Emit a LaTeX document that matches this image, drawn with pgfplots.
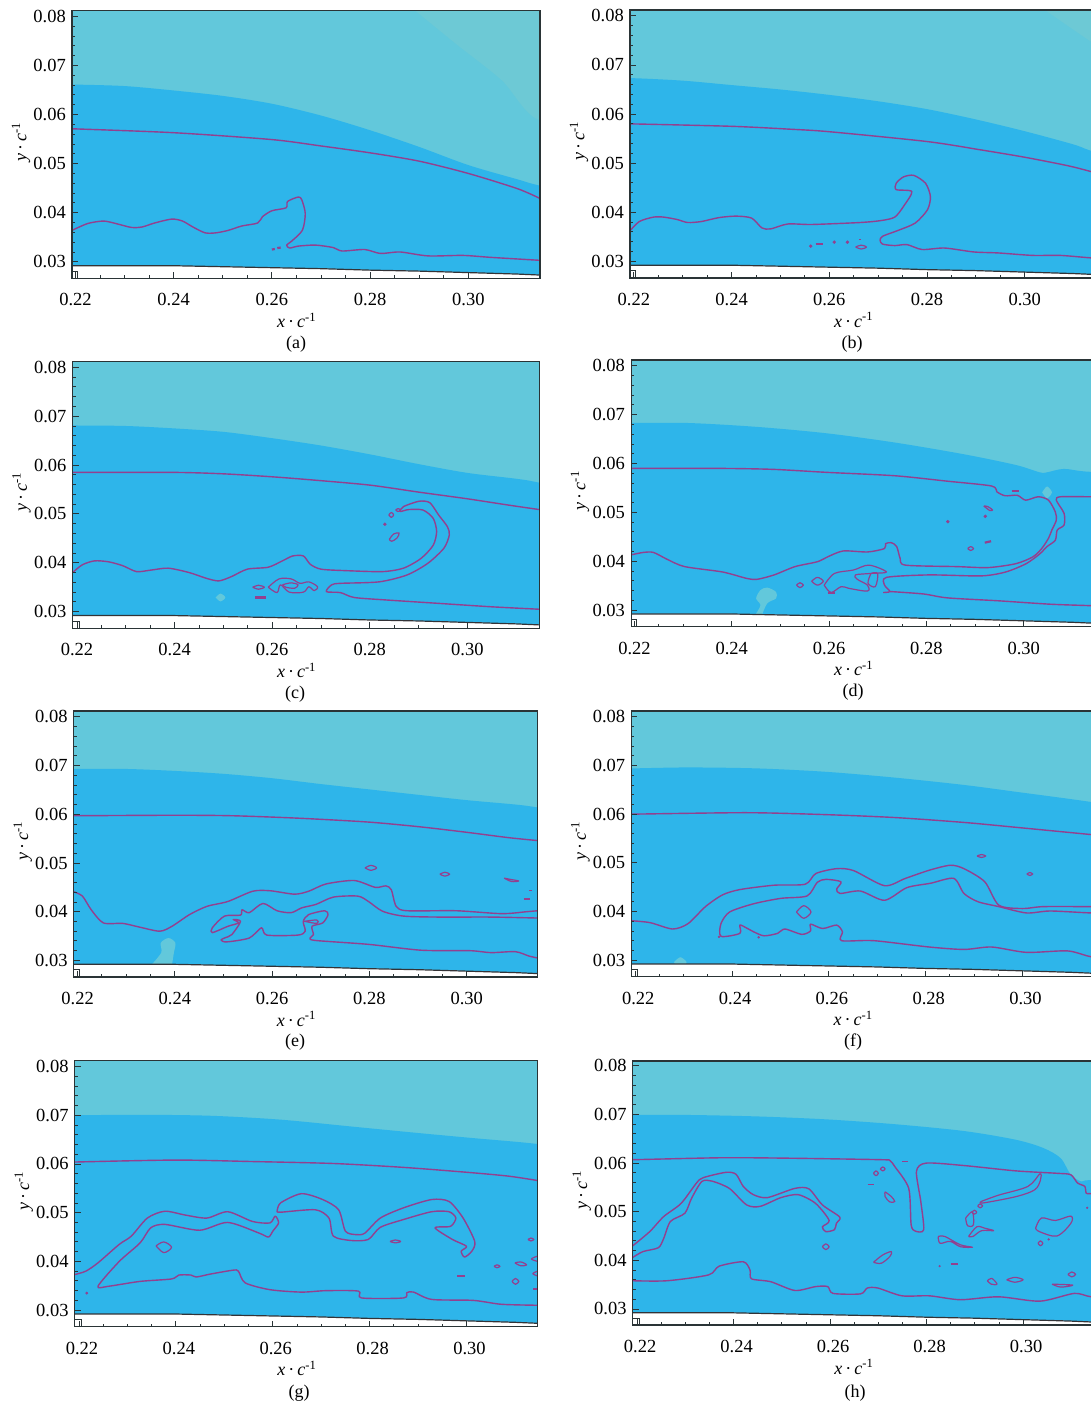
\documentclass[border=0pt]{standalone}
\usepackage{pgfplots}
\usepackage{pgfplotstable}
\usepackage{fontspec}
\setmainfont{Liberation Serif}
\pgfplotsset{compat=1.18}
\definecolor{cteal}{HTML}{62C8DB}
\definecolor{clite}{HTML}{6DC9D5}
\definecolor{cblue}{HTML}{2EB5EA}
\definecolor{cmag}{HTML}{93408F}
\definecolor{cax}{HTML}{2A3436}
\pgfplotstableread{
x y
0.2100 0.0292
0.2400 0.0292
0.2500 0.0290
0.2600 0.0288
0.2700 0.0286
0.2800 0.0283
0.2900 0.0281
0.3000 0.0278
0.3100 0.0275
0.3146 0.0273
0.3300 0.0268
}\wall
\pgfplotstableread{
x y
0.2100 0.0292
0.2400 0.0292
0.2500 0.0290
0.2600 0.0288
0.2700 0.0286
0.2800 0.0283
0.2900 0.0281
0.3000 0.0278
0.3100 0.0275
0.3146 0.0273
0.3300 0.0268
0.3300 0.0200
0.2100 0.0200
}\wallfill
\pgfplotsset{
  pan/.style={scale only axis, anchor=south west, axis on top,
    axis line style={draw=cax,line width=1.1pt},
    every tick/.style={draw=cax,line width=0.9pt},
    xtick={0.22,0.24,0.26,0.28,0.30},
    ytick={0.03,0.04,0.05,0.06,0.07,0.08},
    minor x tick num=3, minor y tick num=4,
    tick align=inside, xtick pos=lower, ytick pos=lower,
    major tick length=6pt, minor tick length=3pt,
    ymin=0.0266, ymax=0.0812,
    tick label style={font=\fontsize{18.5}{20}\selectfont},
    xticklabel style={yshift=-9pt},
    /pgf/number format/.cd, fixed, fixed zerofill, precision=2, assume math mode=true, /tikz/.cd,
    scaled ticks=false,
    xlabel={\textit{x}\,·\,\textit{c}\textsuperscript{-1}},
    ylabel={\textit{y}\,·\,\textit{c}\textsuperscript{-1}},
    label style={font=\fontsize{18}{20}\selectfont},
    xlabel style={at={(axis description cs:0.48,0)},anchor=center,yshift=-42pt},
    ylabel style={at={(axis description cs:0,0.51)},anchor=center,yshift=51pt},
  },
  nudge/.style={xticklabel style={xshift=3pt}},
  bg/.style={fill=cteal,draw=none},
  lz/.style={fill=clite,draw=none,smooth,tension=0.5},
  bl/.style={fill=cblue,draw=none,smooth,tension=0.5},
  lb/.style={fill=cteal,draw=none,smooth},
  ct/.style={draw=cmag,line width=1.4pt,line join=round,smooth,tension=0.45},
  lp/.style={draw=cmag,line width=1.2pt,line join=round,smooth,tension=0.55},
  ds/.style={draw=cmag,line width=2.2pt},
  dt/.style={only marks,mark=*,mark size=1.5pt,mark options={fill=cmag,draw=cmag},draw=cmag},
}
\newcommand\Base{\addplot[bg] coordinates {(0.21,0.02)(0.33,0.02)(0.33,0.09)(0.21,0.09)};}
\newcommand\Wall{\addplot[fill=white,draw=none] table {\wallfill};
\addplot[draw=black!90!cyan,line width=1.2pt] table {\wall};}
\newcommand\Corner{\addplot[draw=cax,line width=0.8pt] coordinates {(0.2150,0.0281)(0.2204,0.0281)(0.2204,0.0250)};}
\begin{document}
\fontsize{18}{20}\selectfont
\begin{tikzpicture}
\useasboundingbox (0pt,0pt) rectangle (1091pt,1405pt);

% ---------- (a)
\begin{axis}[pan,at={(72pt,1126.5pt)},width=468pt,height=268pt,xmin=0.2193,xmax=0.3146]
\Base
\addplot[lz] coordinates {(0.2882,0.0820)(0.2975,0.0744)(0.3068,0.0670)(0.3146,0.0588)(0.3300,0.0588)(0.3300,0.0820)};
\addplot[bl] coordinates {(0.2150,0.0661)(0.2200,0.0661)(0.2300,0.0658)(0.2400,0.0649)(0.2500,0.0638)(0.2600,0.0622)(0.2700,0.0598)(0.2800,0.0568)(0.2900,0.0534)(0.3000,0.0497)(0.3100,0.0468)(0.3146,0.0455)(0.3300,0.0420)(0.3300,0.0200)(0.2150,0.0200)};
\Wall
\addplot[ct] coordinates {(0.2150,0.0572)(0.2193,0.0571)(0.2400,0.0563)(0.2600,0.0549)(0.2700,0.0536)(0.2800,0.0522)(0.2900,0.0505)(0.3000,0.0480)(0.3100,0.0449)(0.3146,0.0429)};
\addplot[ct] coordinates {(0.2193,0.0364)(0.2225,0.0378)(0.2257,0.0383)(0.2282,0.0378)(0.2314,0.0370)(0.2336,0.0371)(0.2361,0.0379)(0.2396,0.0387)(0.2418,0.0383)(0.2439,0.0371)(0.2464,0.0359)(0.2486,0.0359)(0.2511,0.0364)(0.2539,0.0373)(0.2571,0.0379)(0.2581,0.0392)(0.2600,0.0404)(0.2629,0.0410)(0.2632,0.0423)(0.2654,0.0432)(0.2661,0.0426)(0.2668,0.0398)(0.2662,0.0364)(0.2639,0.0341)(0.2630,0.0334)(0.2636,0.0328)(0.2654,0.0332)(0.2689,0.0334)(0.2725,0.0329)(0.2743,0.0322)(0.2789,0.0325)(0.2821,0.0317)(0.2861,0.0320)(0.2918,0.0312)(0.2989,0.0313)(0.3046,0.0309)(0.3146,0.0303)};
\addplot[ds] coordinates {(0.2600,0.0325)(0.2606,0.0326)};
\addplot[ds] coordinates {(0.2611,0.0328)(0.2618,0.0329)};
\Corner
\end{axis}
\node at (296pt,1061pt) {(a)};

% ---------- (b)
\begin{axis}[pan,at={(630pt,1127pt)},width=466pt,height=268pt,xmin=0.2192,xmax=0.3146]
\Base
\addplot[lz] coordinates {(0.3030,0.0820)(0.3135,0.0748)(0.3300,0.0640)(0.3300,0.0820)};
\addplot[bl] coordinates {(0.2150,0.0673)(0.2200,0.0673)(0.2300,0.0668)(0.2400,0.0659)(0.2500,0.0650)(0.2600,0.0639)(0.2700,0.0626)(0.2800,0.0610)(0.2900,0.0589)(0.3000,0.0565)(0.3100,0.0538)(0.3146,0.0522)(0.3300,0.0480)(0.3300,0.0200)(0.2150,0.0200)};
\Wall
\addplot[ct] coordinates {(0.2150,0.0580)(0.2192,0.0580)(0.2400,0.0575)(0.2522,0.0569)(0.2600,0.0564)(0.2800,0.0544)(0.2910,0.0527)(0.3000,0.0512)(0.3087,0.0495)(0.3135,0.0483)(0.3200,0.0465)};
\addplot[ct] coordinates {(0.2191,0.0361)(0.2211,0.0381)(0.2240,0.0390)(0.2261,0.0390)(0.2289,0.0385)(0.2310,0.0379)(0.2338,0.0381)(0.2374,0.0389)(0.2409,0.0392)(0.2441,0.0388)(0.2462,0.0368)(0.2480,0.0366)(0.2515,0.0376)(0.2564,0.0375)(0.2663,0.0379)(0.2706,0.0383)(0.2734,0.0390)(0.2752,0.0412)(0.2769,0.0442)(0.2737,0.0446)(0.2737,0.0459)(0.2752,0.0472)(0.2773,0.0475)(0.2797,0.0459)(0.2807,0.0432)(0.2801,0.0405)(0.2776,0.0378)(0.2741,0.0363)(0.2709,0.0351)(0.2704,0.0343)(0.2709,0.0335)(0.2734,0.0332)(0.2759,0.0334)(0.2790,0.0324)(0.2836,0.0327)(0.2896,0.0319)(0.2946,0.0317)(0.3016,0.0312)(0.3073,0.0312)(0.3135,0.0307)(0.3200,0.0303)};
\addplot[dt] coordinates {(0.2562,0.0331)(0.2610,0.0339)(0.2637,0.0339)};
\addplot[ds] coordinates {(0.2572,0.0335)(0.2587,0.0335)};
\addplot[ds,line width=1pt] coordinates {(0.2661,0.0344)(0.2664,0.0344)};
\addplot[lp] coordinates {(0.2654,0.0329)(0.2665,0.0333)(0.2676,0.0329)(0.2665,0.0325)(0.2654,0.0329)};
\Corner
\end{axis}
\node at (852pt,1061pt) {(b)};

% ---------- (c)
\begin{axis}[pan,at={(72.6pt,776.7pt)},width=466.5pt,height=266.8pt,xmin=0.2191,xmax=0.3147]
\Base
\addplot[bl] coordinates {(0.2150,0.0681)(0.2200,0.0681)(0.2300,0.0680)(0.2400,0.0675)(0.2500,0.0668)(0.2600,0.0655)(0.2700,0.0640)(0.2800,0.0622)(0.2900,0.0602)(0.3000,0.0584)(0.3100,0.0572)(0.3147,0.0564)(0.3300,0.0530)(0.3300,0.0200)(0.2150,0.0200)};
\addplot[lb] coordinates {(0.2484,0.0329)(0.2494,0.0337)(0.2504,0.0329)(0.2494,0.0321)(0.2484,0.0329)};
\Wall
\addplot[ct] coordinates {(0.2150,0.0585)(0.2193,0.0585)(0.2401,0.0585)(0.2502,0.0582)(0.2600,0.0576)(0.2689,0.0569)(0.2800,0.0559)(0.2905,0.0544)(0.3000,0.0531)(0.3085,0.0518)(0.3147,0.0509)};
\addplot[ct] coordinates {(0.2191,0.0380)(0.2211,0.0396)(0.2236,0.0404)(0.2265,0.0402)(0.2294,0.0394)(0.2322,0.0382)(0.2351,0.0385)(0.2387,0.0389)(0.2430,0.0380)(0.2466,0.0368)(0.2491,0.0363)(0.2517,0.0372)(0.2549,0.0387)(0.2592,0.0391)(0.2621,0.0404)(0.2642,0.0414)(0.2664,0.0414)(0.2678,0.0397)(0.2700,0.0387)(0.2750,0.0384)(0.2826,0.0382)(0.2869,0.0389)(0.2905,0.0409)(0.2930,0.0436)(0.2937,0.0464)(0.2930,0.0491)(0.2909,0.0508)(0.2880,0.0509)(0.2862,0.0505)(0.2869,0.0515)(0.2901,0.0526)(0.2923,0.0523)(0.2941,0.0498)(0.2959,0.0474)(0.2963,0.0457)(0.2952,0.0430)(0.2919,0.0399)(0.2876,0.0375)(0.2819,0.0361)(0.2740,0.0358)(0.2722,0.0355)(0.2711,0.0341)(0.2740,0.0339)(0.2768,0.0329)(0.2833,0.0324)(0.2941,0.0317)(0.3049,0.0310)(0.3147,0.0305)};
\addplot[lp] coordinates {(0.2560,0.0350)(0.2572,0.0354)(0.2584,0.0350)(0.2572,0.0346)(0.2560,0.0350)};
\addplot[ds] coordinates {(0.2565,0.0329)(0.2587,0.0329)};
\addplot[lp] coordinates {(0.2592,0.0350)(0.2614,0.0367)(0.2639,0.0367)(0.2657,0.0358)(0.2675,0.0361)(0.2693,0.0351)(0.2686,0.0343)(0.2675,0.0351)(0.2664,0.0340)(0.2635,0.0340)(0.2617,0.0355)(0.2610,0.0339)(0.2592,0.0350)};
\addplot[lp] coordinates {(0.2621,0.0355)(0.2639,0.0359)(0.2653,0.0355)(0.2646,0.0348)(0.2628,0.0350)(0.2621,0.0355)};
\addplot[lp] coordinates {(0.2839,0.0498)(0.2844,0.0503)(0.2849,0.0498)(0.2844,0.0493)(0.2839,0.0498)};
\addplot[lp] coordinates {(0.2853,0.0508)(0.2858,0.0511)(0.2863,0.0508)(0.2858,0.0505)(0.2853,0.0508)};
\addplot[dt] coordinates {(0.2831,0.0479)};
\addplot[lp] coordinates {(0.2840,0.0448)(0.2849,0.0459)(0.2860,0.0461)(0.2856,0.0451)(0.2845,0.0444)(0.2840,0.0448)};
\Corner
\end{axis}
\node at (295pt,711pt) {(c)};

% ---------- (d)
\begin{axis}[pan,at={(631.1pt,778.3pt)},width=463.6pt,height=266.7pt,xmin=0.2193,xmax=0.3146]
\Base
\addplot[bl] coordinates {(0.2150,0.0683)(0.2193,0.0683)(0.2310,0.0683)(0.2452,0.0675)(0.2594,0.0662)(0.2735,0.0643)(0.2877,0.0619)(0.2984,0.0597)(0.3033,0.0582)(0.3048,0.0582)(0.3083,0.0589)(0.3138,0.0583)(0.3300,0.0580)(0.3300,0.0200)(0.2150,0.0200)};
\addplot[lb] coordinates {(0.2448,0.0290)(0.2459,0.0310)(0.2450,0.0324)(0.2459,0.0341)(0.2473,0.0346)(0.2491,0.0337)(0.2491,0.0324)(0.2473,0.0314)(0.2462,0.0290)};
\addplot[lb] coordinates {(0.3038,0.0541)(0.3048,0.0553)(0.3058,0.0541)(0.3048,0.0529)(0.3038,0.0541)};
\Wall
\addplot[ct] coordinates {(0.2150,0.0590)(0.2193,0.0590)(0.2381,0.0590)(0.2487,0.0588)(0.2594,0.0582)(0.2735,0.0575)(0.2842,0.0564)(0.2934,0.0554)(0.2945,0.0542)(0.2962,0.0534)(0.2987,0.0535)(0.3004,0.0525)(0.3030,0.0532)(0.3051,0.0525)(0.3065,0.0501)(0.3067,0.0484)(0.3058,0.0464)(0.3051,0.0447)(0.3037,0.0426)(0.3019,0.0409)(0.2984,0.0395)(0.2927,0.0387)(0.2863,0.0389)(0.2757,0.0392)(0.2746,0.0406)(0.2739,0.0430)(0.2728,0.0438)(0.2716,0.0436)(0.2714,0.0426)(0.2679,0.0419)(0.2629,0.0421)(0.2597,0.0409)(0.2576,0.0399)(0.2530,0.0389)(0.2487,0.0372)(0.2452,0.0363)(0.2430,0.0365)(0.2381,0.0378)(0.2303,0.0389)(0.2267,0.0404)(0.2239,0.0418)(0.2218,0.0418)(0.2193,0.0413)};
\addplot[ct] coordinates {(0.3200,0.0532)(0.3138,0.0532)(0.3076,0.0532)(0.3067,0.0525)(0.3083,0.0498)(0.3083,0.0474)(0.3069,0.0464)(0.3065,0.0443)(0.3048,0.0430)(0.3033,0.0415)(0.3005,0.0395)(0.2963,0.0378)(0.2913,0.0370)(0.2806,0.0372)(0.2718,0.0367)(0.2714,0.0351)(0.2725,0.0338)(0.2711,0.0336)};
\addplot[ct] coordinates {(0.2725,0.0338)(0.2794,0.0333)(0.2843,0.0325)(0.2948,0.0319)(0.3055,0.0312)(0.3138,0.0309)(0.3200,0.0306)};
\addplot[lp] coordinates {(0.2590,0.0351)(0.2611,0.0375)(0.2650,0.0382)(0.2682,0.0392)(0.2718,0.0378)(0.2686,0.0375)(0.2654,0.0372)(0.2658,0.0363)(0.2679,0.0351)(0.2679,0.0339)(0.2643,0.0344)(0.2625,0.0348)(0.2604,0.0336)(0.2590,0.0351)};
\addplot[lp] coordinates {(0.2686,0.0375)(0.2700,0.0375)(0.2695,0.0348)(0.2680,0.0355)(0.2686,0.0375)};
\addplot[lp] coordinates {(0.2533,0.0351)(0.2540,0.0356)(0.2547,0.0351)(0.2540,0.0346)(0.2533,0.0351)};
\addplot[lp] coordinates {(0.2564,0.0359)(0.2576,0.0367)(0.2588,0.0359)(0.2576,0.0351)(0.2564,0.0359)};
\addplot[ds] coordinates {(0.2597,0.0335)(0.2612,0.0335)};
\addplot[dt] coordinates {(0.2844,0.0481)(0.2921,0.0492)};
\addplot[lp] coordinates {(0.2918,0.0513)(0.2926,0.0512)(0.2936,0.0505)(0.2930,0.0504)(0.2918,0.0513)};
\addplot[lp] coordinates {(0.2885,0.0426)(0.2891,0.0430)(0.2897,0.0426)(0.2891,0.0422)(0.2885,0.0426)};
\addplot[ds] coordinates {(0.2920,0.0438)(0.2933,0.0441)};
\addplot[ds] coordinates {(0.2975,0.0544)(0.2990,0.0544)};
\Corner
\end{axis}
\node at (853pt,713pt) {(d)};

% ---------- (e)
\begin{axis}[pan,at={(73.7pt,428pt)},width=464pt,height=266pt,xmin=0.2192,xmax=0.3146]
\Base
\addplot[bl] coordinates {(0.2150,0.0693)(0.2200,0.0693)(0.2300,0.0693)(0.2400,0.0689)(0.2500,0.0683)(0.2600,0.0674)(0.2700,0.0662)(0.2800,0.0651)(0.2900,0.0640)(0.3000,0.0629)(0.3100,0.0620)(0.3146,0.0614)(0.3300,0.0590)(0.3300,0.0200)(0.2150,0.0200)};
\addplot[lb] coordinates {(0.2351,0.0290)(0.2372,0.0316)(0.2371,0.0336)(0.2387,0.0346)(0.2401,0.0336)(0.2398,0.0316)(0.2394,0.0290)};
\Wall
\addplot[ct] coordinates {(0.2150,0.0597)(0.2192,0.0597)(0.2401,0.0598)(0.2517,0.0597)(0.2653,0.0592)(0.2798,0.0584)(0.2906,0.0574)(0.3000,0.0563)(0.3086,0.0552)(0.3146,0.0546)};
\addplot[ct] coordinates {(0.2192,0.0441)(0.2210,0.0432)(0.2228,0.0404)(0.2253,0.0377)(0.2293,0.0376)(0.2329,0.0368)(0.2369,0.0360)(0.2394,0.0370)(0.2430,0.0394)(0.2466,0.0411)(0.2509,0.0421)(0.2560,0.0442)(0.2596,0.0443)(0.2646,0.0436)(0.2675,0.0442)(0.2711,0.0457)(0.2769,0.0464)(0.2812,0.0450)(0.2834,0.0453)(0.2845,0.0445)(0.2855,0.0411)(0.2877,0.0402)(0.2978,0.0402)(0.3072,0.0396)(0.3123,0.0400)(0.3146,0.0402)};
\addplot[ct] coordinates {(0.3146,0.0387)(0.3050,0.0389)(0.2942,0.0389)(0.2870,0.0391)(0.2827,0.0401)(0.2798,0.0421)(0.2776,0.0432)(0.2726,0.0430)(0.2690,0.0415)(0.2661,0.0408)(0.2639,0.0398)(0.2610,0.0402)(0.2581,0.0417)(0.2553,0.0398)(0.2538,0.0404)(0.2535,0.0393)(0.2502,0.0391)(0.2477,0.0367)(0.2477,0.0357)(0.2509,0.0370)(0.2531,0.0377)(0.2520,0.0384)(0.2535,0.0380)(0.2517,0.0353)(0.2502,0.0346)(0.2495,0.0342)(0.2506,0.0338)(0.2553,0.0346)(0.2578,0.0367)(0.2589,0.0352)(0.2653,0.0352)(0.2668,0.0360)(0.2664,0.0380)(0.2675,0.0394)(0.2708,0.0402)(0.2715,0.0394)(0.2704,0.0377)(0.2682,0.0370)(0.2685,0.0353)(0.2678,0.0346)(0.2689,0.0341)(0.2798,0.0333)(0.2906,0.0321)(0.3007,0.0320)(0.3050,0.0316)(0.3100,0.0318)(0.3128,0.0309)(0.3146,0.0305)};
\addplot[lp] coordinates {(0.2664,0.0380)(0.2692,0.0383)(0.2692,0.0376)(0.2668,0.0380)};
\addplot[lp] coordinates {(0.2791,0.0490)(0.2803,0.0495)(0.2815,0.0490)(0.2803,0.0485)(0.2791,0.0490)};
\addplot[lp] coordinates {(0.2945,0.0477)(0.2955,0.0481)(0.2965,0.0477)(0.2955,0.0473)(0.2945,0.0477)};
\addplot[lp] coordinates {(0.3077,0.0469)(0.3092,0.0466)(0.3107,0.0463)(0.3092,0.0462)(0.3077,0.0469)};
\addplot[ds,line width=1.2pt] coordinates {(0.3128,0.0444)(0.3134,0.0444)};
\addplot[ds,line width=1.5pt] coordinates {(0.3117,0.0426)(0.3131,0.0426)};
\Corner
\end{axis}
\node at (295pt,363pt) {(e)};

% ---------- (f)
\begin{axis}[pan,nudge,at={(631.4pt,428.3pt)},width=461.8pt,height=265.7pt,xmin=0.2192,xmax=0.3146]
\Base
\addplot[bl] coordinates {(0.2150,0.0694)(0.2192,0.0694)(0.2309,0.0696)(0.2452,0.0694)(0.2594,0.0687)(0.2737,0.0675)(0.2879,0.0660)(0.2986,0.0646)(0.3142,0.0625)(0.3300,0.0600)(0.3300,0.0200)(0.2150,0.0200)};
\addplot[lb] coordinates {(0.2280,0.0296)(0.2293,0.0306)(0.2306,0.0296)(0.2300,0.0288)(0.2286,0.0288)(0.2280,0.0296)};
\Wall
\addplot[ct] coordinates {(0.2150,0.0600)(0.2192,0.0600)(0.2430,0.0603)(0.2594,0.0599)(0.2737,0.0593)(0.2879,0.0583)(0.2986,0.0573)(0.3142,0.0558)(0.3200,0.0552)};
\addplot[ct] coordinates {(0.2192,0.0381)(0.2231,0.0377)(0.2277,0.0364)(0.2309,0.0375)(0.2345,0.0410)(0.2380,0.0434)(0.2416,0.0445)(0.2487,0.0454)(0.2551,0.0456)(0.2573,0.0478)(0.2616,0.0488)(0.2651,0.0484)(0.2715,0.0453)(0.2758,0.0468)(0.2808,0.0485)(0.2851,0.0495)(0.2879,0.0488)(0.2922,0.0461)(0.2951,0.0413)(0.3000,0.0406)(0.3043,0.0410)(0.3142,0.0410)(0.3200,0.0410)};
\addplot[ct] coordinates {(0.3200,0.0397)(0.3142,0.0397)(0.3057,0.0401)(0.3008,0.0397)(0.2951,0.0410)(0.2908,0.0420)(0.2879,0.0437)(0.2858,0.0468)(0.2810,0.0458)(0.2761,0.0449)(0.2715,0.0423)(0.2665,0.0442)(0.2623,0.0437)(0.2616,0.0446)(0.2625,0.0461)(0.2594,0.0466)(0.2576,0.0460)(0.2555,0.0432)(0.2501,0.0427)(0.2445,0.0416)(0.2395,0.0399)(0.2377,0.0375)(0.2377,0.0349)(0.2416,0.0355)(0.2416,0.0372)(0.2430,0.0366)(0.2445,0.0358)(0.2466,0.0350)(0.2494,0.0355)(0.2509,0.0364)(0.2544,0.0353)(0.2562,0.0360)(0.2562,0.0374)(0.2587,0.0365)(0.2616,0.0372)(0.2628,0.0358)(0.2626,0.0340)(0.2693,0.0340)(0.2807,0.0327)(0.2879,0.0322)(0.2936,0.0327)(0.3008,0.0316)(0.3093,0.0319)(0.3142,0.0307)(0.3200,0.0304)};
\addplot[lp] coordinates {(0.2533,0.0399)(0.2548,0.0412)(0.2563,0.0399)(0.2548,0.0386)(0.2533,0.0399)};
\addplot[lp] coordinates {(0.2906,0.0514)(0.2915,0.0517)(0.2924,0.0514)(0.2915,0.0511)(0.2906,0.0514)};
\addplot[lp] coordinates {(0.3009,0.0477)(0.3015,0.0480)(0.3021,0.0477)(0.3015,0.0474)(0.3009,0.0477)};
\addplot[dt,mark size=1pt] coordinates {(0.2455,0.0347)(0.2373,0.0348)};
\Corner
\end{axis}
\node at (853pt,363pt) {(f)};

% ---------- (g)
\begin{axis}[pan,nudge,at={(74.7pt,78.3pt)},width=463pt,height=266pt,xmin=0.2191,xmax=0.3147]
\Base
\addplot[bl] coordinates {(0.2150,0.0700)(0.2191,0.0700)(0.2326,0.0701)(0.2471,0.0699)(0.2616,0.0691)(0.2761,0.0677)(0.2906,0.0663)(0.3015,0.0653)(0.3147,0.0641)(0.3300,0.0620)(0.3300,0.0200)(0.2150,0.0200)};
\Wall
\addplot[ct] coordinates {(0.2150,0.0602)(0.2191,0.0604)(0.2399,0.0608)(0.2558,0.0605)(0.2725,0.0601)(0.2870,0.0593)(0.3000,0.0583)(0.3087,0.0575)(0.3147,0.0566)};
\addplot[ct] coordinates {(0.2191,0.0373)(0.2214,0.0380)(0.2239,0.0397)(0.2283,0.0435)(0.2308,0.0452)(0.2341,0.0489)(0.2377,0.0503)(0.2420,0.0495)(0.2464,0.0489)(0.2507,0.0502)(0.2558,0.0482)(0.2594,0.0479)(0.2605,0.0493)(0.2612,0.0479)(0.2600,0.0462)(0.2591,0.0450)(0.2572,0.0458)(0.2507,0.0480)(0.2449,0.0464)(0.2377,0.0476)(0.2348,0.0469)(0.2326,0.0438)(0.2283,0.0400)(0.2239,0.0349)(0.2261,0.0349)(0.2326,0.0359)(0.2391,0.0364)(0.2406,0.0372)(0.2431,0.0372)(0.2442,0.0368)(0.2471,0.0374)(0.2518,0.0382)(0.2529,0.0380)(0.2543,0.0356)(0.2594,0.0342)(0.2659,0.0337)(0.2710,0.0340)(0.2777,0.0339)(0.2783,0.0325)(0.2870,0.0325)(0.2877,0.0336)(0.2891,0.0337)(0.2928,0.0322)(0.3014,0.0320)(0.3072,0.0312)(0.3147,0.0310)};
\addplot[ct] coordinates {(0.2609,0.0503)(0.2616,0.0520)(0.2659,0.0539)(0.2703,0.0527)(0.2736,0.0506)(0.2750,0.0462)(0.2772,0.0455)(0.2790,0.0458)(0.2822,0.0489)(0.2870,0.0510)(0.2928,0.0527)(0.2964,0.0523)(0.2993,0.0489)(0.3017,0.0441)(0.3011,0.0421)(0.2996,0.0409)(0.2989,0.0421)(0.3000,0.0431)(0.2971,0.0445)(0.2935,0.0469)(0.2967,0.0472)(0.2978,0.0489)(0.2964,0.0502)(0.2928,0.0502)(0.2870,0.0486)(0.2822,0.0470)(0.2797,0.0445)(0.2761,0.0443)(0.2725,0.0452)(0.2716,0.0489)(0.2688,0.0506)(0.2616,0.0501)(0.2609,0.0503)};
\addplot[lp] coordinates {(0.2359,0.0432)(0.2375,0.0440)(0.2391,0.0429)(0.2375,0.0418)(0.2359,0.0432)};
\addplot[dt,mark size=1.2pt] coordinates {(0.2216,0.0335)};
\addplot[lp] coordinates {(0.2842,0.0441)(0.2853,0.0444)(0.2864,0.0441)(0.2853,0.0438)(0.2842,0.0441)};
\addplot[ds] coordinates {(0.2981,0.0370)(0.2997,0.0370)};
\addplot[lp] coordinates {(0.3057,0.0390)(0.3063,0.0393)(0.3069,0.0390)(0.3063,0.0387)(0.3057,0.0390)};
\addplot[lp] coordinates {(0.3100,0.0397)(0.3112,0.0399)(0.3124,0.0393)(0.3112,0.0391)(0.3100,0.0397)};
\addplot[lp] coordinates {(0.3094,0.0359)(0.3101,0.0365)(0.3108,0.0359)(0.3101,0.0353)(0.3094,0.0359)};
\addplot[lp] coordinates {(0.3127,0.0445)(0.3133,0.0448)(0.3139,0.0445)(0.3133,0.0442)(0.3127,0.0445)};
\addplot[lp] coordinates {(0.3147,0.0411)(0.3134,0.0405)(0.3147,0.0400)};
\addplot[lp] coordinates {(0.3147,0.0380)(0.3137,0.0375)(0.3147,0.0370)};
\addplot[ds] coordinates {(0.3138,0.0344)(0.3147,0.0344)};
\Corner
\end{axis}
\node at (299pt,12pt) {(g)};

% ---------- (h)
\begin{axis}[pan,nudge,at={(632.8pt,80pt)},width=460.7pt,height=264pt,xmin=0.2191,xmax=0.3146,ymin=0.0267,ymax=0.0810]
\Base
\addplot[bl] coordinates {(0.2150,0.0699)(0.2191,0.0699)(0.2305,0.0699)(0.2448,0.0696)(0.2591,0.0690)(0.2734,0.0680)(0.2877,0.0666)(0.2985,0.0648)(0.3042,0.0631)(0.3078,0.0610)(0.3099,0.0576)(0.3121,0.0562)(0.3141,0.0565)(0.3300,0.0565)(0.3300,0.0200)(0.2150,0.0200)};
\Wall
\addplot[ct] coordinates {(0.2150,0.0607)(0.2191,0.0607)(0.2377,0.0611)(0.2520,0.0610)(0.2706,0.0607)(0.2724,0.0605)(0.2734,0.0593)(0.2763,0.0548)(0.2768,0.0473)(0.2777,0.0460)(0.2794,0.0463)(0.2788,0.0521)(0.2779,0.0583)(0.2799,0.0600)(0.2877,0.0595)(0.2985,0.0584)(0.3071,0.0579)(0.3099,0.0576)(0.3113,0.0559)(0.3128,0.0552)(0.3131,0.0538)(0.3141,0.0537)(0.3200,0.0530)};
\addplot[ct] coordinates {(0.2191,0.0430)(0.2226,0.0459)(0.2255,0.0490)(0.2291,0.0517)(0.2323,0.0559)(0.2337,0.0570)(0.2384,0.0581)(0.2405,0.0577)(0.2420,0.0552)(0.2441,0.0535)(0.2470,0.0529)(0.2527,0.0548)(0.2556,0.0547)(0.2584,0.0514)(0.2620,0.0489)(0.2613,0.0476)(0.2609,0.0463)(0.2591,0.0459)(0.2584,0.0469)(0.2598,0.0482)(0.2570,0.0517)(0.2534,0.0535)(0.2498,0.0529)(0.2455,0.0511)(0.2427,0.0514)(0.2391,0.0548)(0.2355,0.0563)(0.2334,0.0562)(0.2313,0.0528)(0.2299,0.0497)(0.2269,0.0480)(0.2255,0.0445)(0.2244,0.0426)(0.2212,0.0418)(0.2191,0.0406)};
\addplot[ct] coordinates {(0.2191,0.0358)(0.2262,0.0358)(0.2348,0.0370)(0.2370,0.0388)(0.2420,0.0397)(0.2434,0.0380)(0.2437,0.0362)(0.2477,0.0356)(0.2527,0.0338)(0.2570,0.0346)(0.2595,0.0346)(0.2606,0.0332)(0.2663,0.0331)(0.2677,0.0343)(0.2699,0.0343)(0.2749,0.0327)(0.2806,0.0327)(0.2870,0.0319)(0.2949,0.0325)(0.3035,0.0316)(0.3106,0.0332)(0.3141,0.0325)(0.3200,0.0322)};
\addplot[lp] coordinates {(0.2913,0.0521)(0.2949,0.0534)(0.3010,0.0552)(0.3035,0.0578)(0.3036,0.0565)(0.3024,0.0545)(0.2985,0.0531)(0.2917,0.0518)(0.2913,0.0521)};
\addplot[lp] coordinates {(0.2906,0.0512)(0.2911,0.0516)(0.2916,0.0512)(0.2911,0.0508)(0.2906,0.0512)};
\addplot[lp] coordinates {(0.2690,0.0579)(0.2695,0.0584)(0.2700,0.0579)(0.2695,0.0574)(0.2690,0.0579)};
\addplot[lp] coordinates {(0.2704,0.0588)(0.2709,0.0592)(0.2714,0.0588)(0.2709,0.0584)(0.2704,0.0588)};
\addplot[ds,line width=1.3pt] coordinates {(0.2678,0.0556)(0.2690,0.0556)};
\addplot[ds,line width=1.3pt] coordinates {(0.2750,0.0603)(0.2762,0.0603)};
\addplot[lp] coordinates {(0.2714,0.0541)(0.2727,0.0531)(0.2734,0.0521)(0.2724,0.0520)(0.2714,0.0531)(0.2714,0.0541)};
\addplot[lp] coordinates {(0.2584,0.0428)(0.2591,0.0434)(0.2598,0.0428)(0.2591,0.0422)(0.2584,0.0428)};
\addplot[lp] coordinates {(0.2690,0.0396)(0.2709,0.0411)(0.2727,0.0418)(0.2724,0.0408)(0.2706,0.0394)(0.2690,0.0396)};
\addplot[lp] coordinates {(0.2824,0.0449)(0.2838,0.0449)(0.2870,0.0432)(0.2895,0.0427)(0.2870,0.0428)(0.2849,0.0439)(0.2828,0.0435)(0.2824,0.0449)};
\addplot[ds] coordinates {(0.2850,0.0392)(0.2866,0.0392)};
\addplot[dt,mark size=0.9pt] coordinates {(0.2827,0.0388)(0.3053,0.0443)(0.3133,0.0508)};
\addplot[lp] coordinates {(0.2881,0.0487)(0.2895,0.0500)(0.2897,0.0473)(0.2885,0.0471)(0.2881,0.0487)};
\addplot[lp] coordinates {(0.2894,0.0499)(0.2899,0.0503)(0.2904,0.0499)(0.2899,0.0495)(0.2894,0.0499)};
\addplot[lp] coordinates {(0.2887,0.0449)(0.2904,0.0469)(0.2921,0.0466)(0.2939,0.0461)(0.2914,0.0461)(0.2896,0.0449)(0.2887,0.0449)};
\addplot[lp] coordinates {(0.3026,0.0466)(0.3038,0.0487)(0.3067,0.0482)(0.3099,0.0491)(0.3099,0.0476)(0.3070,0.0450)(0.3034,0.0459)(0.3026,0.0466)};
\addplot[lp] coordinates {(0.3031,0.0435)(0.3036,0.0440)(0.3041,0.0435)(0.3036,0.0430)(0.3031,0.0435)};
\addplot[lp] coordinates {(0.2926,0.0358)(0.2935,0.0363)(0.2946,0.0351)(0.2934,0.0351)(0.2926,0.0358)};
\addplot[lp] coordinates {(0.2966,0.0360)(0.2983,0.0365)(0.3000,0.0360)(0.2983,0.0355)(0.2966,0.0360)};
\addplot[lp] coordinates {(0.3093,0.0371)(0.3101,0.0376)(0.3109,0.0371)(0.3101,0.0366)(0.3093,0.0371)};
\addplot[lp] coordinates {(0.3060,0.0351)(0.3103,0.0349)(0.3078,0.0345)(0.3060,0.0351)};
\Corner
\end{axis}
\node at (855pt,12pt) {(h)};
\end{tikzpicture}
\end{document}
